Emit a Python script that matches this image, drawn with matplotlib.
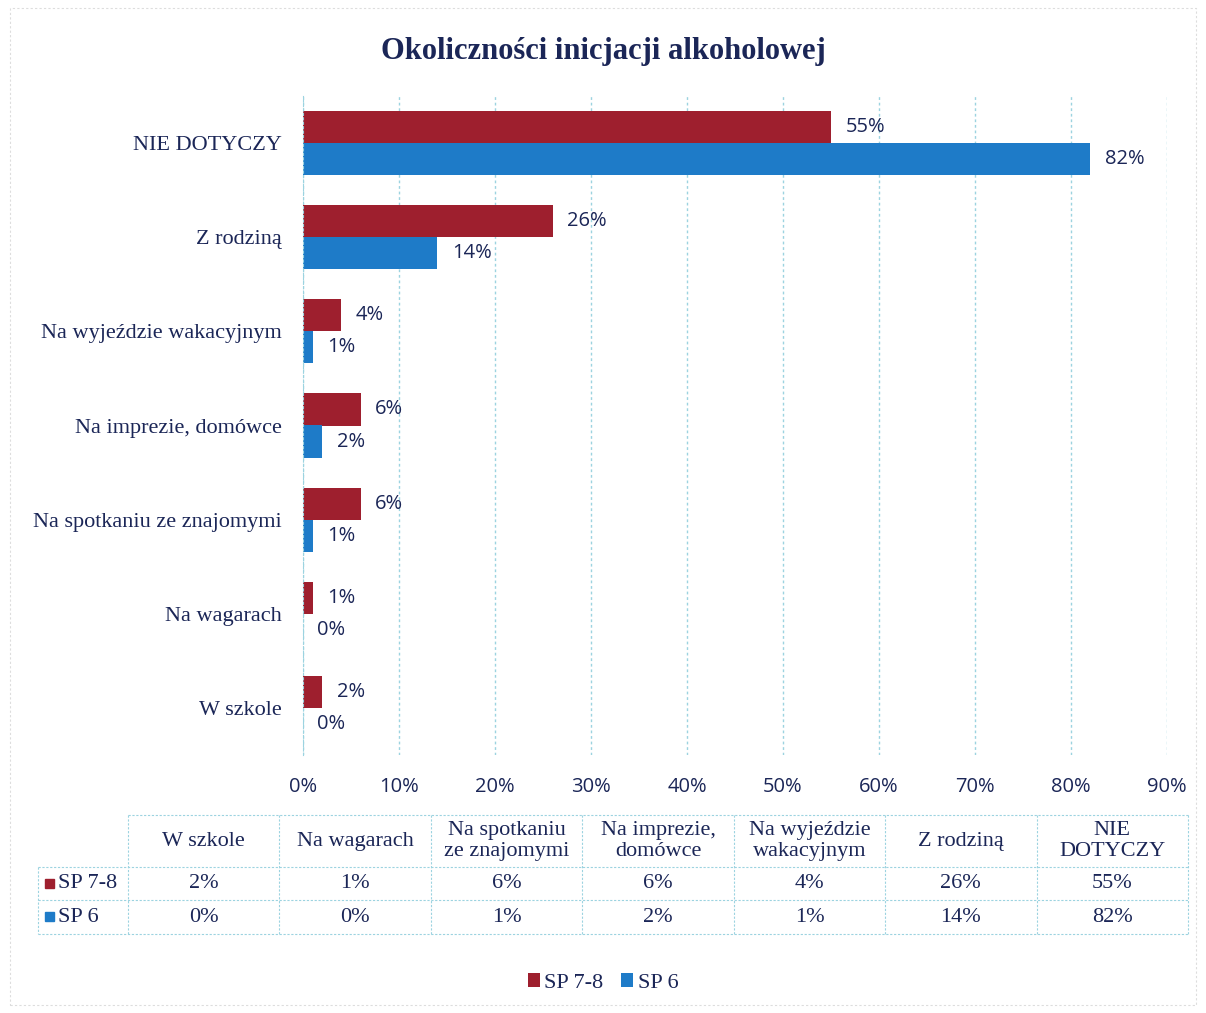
import matplotlib.pyplot as plt
import numpy as np
from matplotlib.patches import Rectangle

# Dane
kategorie = ["W szkole", "Na wagarach", "Na spotkaniu ze znajomymi",
             "Na imprezie, domówce", "Na wyjeździe wakacyjnym", "Z rodziną",
             "NIE DOTYCZY"]
naglowki_tabeli = ["W szkole", "Na wagarach", "Na spotkaniu\nze znajomymi",
                   "Na imprezie,\ndomówce", "Na wyjeździe\nwakacyjnym",
                   "Z rodziną", "NIE\nDOTYCZY"]
sp78 = [2, 1, 6, 6, 4, 26, 55]
sp6 = [0, 0, 1, 2, 1, 14, 82]
serie = ["SP 7-8", "SP 6"]
ticki = [0, 10, 20, 30, 40, 50, 60, 70, 80, 90]

czerwony = "#9E1F2E"
niebieski = "#1E7BC8"
granat = "#1B2657"
siatka = "#9CD3E0"

W, H = 1206, 1013
fig = plt.figure(figsize=(W / 100, H / 100), dpi=100)

# Ramka calego wykresu
fig.patches.append(Rectangle((10 / W, 8 / H), 1 - 20 / W, 1 - 16 / H,
                             transform=fig.transFigure, fill=False,
                             ec="#DDDDDD", lw=0.8, ls=(0, (2, 2))))

ax = fig.add_axes([303 / W, 1 - 755 / H, (1167 - 303) / W, (755 - 96) / H])

y = np.arange(len(kategorie))
h = 0.34
ax.barh(y + h / 2, sp78, height=h, color=czerwony, lw=0, label=serie[0])
ax.barh(y - h / 2, sp6, height=h, color=niebieski, lw=0, label=serie[1])

for i in range(len(kategorie)):
    ax.text(sp78[i] + 1.5, y[i] + h / 2, f"{sp78[i]}%", va="center", ha="left",
            fontsize=14.5, color=granat, family="Open Sans")
    ax.text(sp6[i] + 1.5, y[i] - h / 2, f"{sp6[i]}%", va="center", ha="left",
            fontsize=14.5, color=granat, family="Open Sans")

ax.set_xlim(0, 90)
ax.set_ylim(-0.5, len(kategorie) - 0.5)
ax.set_xticks(ticki)
ax.set_xticklabels([f"{t}%" for t in ticki], fontsize=14.5, color=granat, family="Open Sans")
ax.set_yticks(y)
ax.set_yticklabels(kategorie, fontsize=16, color=granat, family="Liberation Serif")
ax.tick_params(length=0, axis="both")
ax.tick_params(axis="y", pad=15)
ax.tick_params(axis="x", pad=16)
ax.grid(axis="x", color=siatka, lw=1.0, ls=(0, (2, 2)))
ax.set_axisbelow(True)
for s in ["top", "right", "bottom"]:
    ax.spines[s].set_visible(False)
ax.spines["left"].set_color(siatka)
ax.spines["left"].set_linestyle((0, (2, 2)))

fig.text(0.5, 1 - 52 / H, "Okoliczności inicjacji alkoholowej", ha="center", va="center",
         fontsize=22, fontweight="bold", color=granat, family="Liberation Serif")

# Tabela danych
kol = np.linspace(128, 1188, len(kategorie) + 1)
wiersze = [815, 867, 900, 934]
lc = dict(color=siatka, lw=0.8, ls=(0, (2, 1.5)))
fy = lambda v: 1 - v / H
fx = lambda v: v / W
fig.add_artist(plt.Line2D([fx(128), fx(1188)], [fy(815), fy(815)], **lc))
for r in wiersze[1:]:
    fig.add_artist(plt.Line2D([fx(38), fx(1188)], [fy(r), fy(r)], **lc))
for c in kol:
    fig.add_artist(plt.Line2D([fx(c), fx(c)], [fy(815), fy(934)], **lc))
fig.add_artist(plt.Line2D([fx(38), fx(38)], [fy(867), fy(934)], **lc))

for j, nag in enumerate(naglowki_tabeli):
    xc = (kol[j] + kol[j + 1]) / 2
    fig.text(fx(xc), fy(841), nag, ha="center", va="center", fontsize=16,
             color=granat, family="Liberation Serif", linespacing=1.1)
for wart, r0, r1, nazwa, kolor in [(sp78, 867, 900, serie[0], czerwony),
                                   (sp6, 900, 934, serie[1], niebieski)]:
    yc = (r0 + r1) / 2
    fig.patches.append(Rectangle((fx(45), fy(yc + 4)), 9 / W, 9 / H,
                                 transform=fig.transFigure, color=kolor))
    fig.text(fx(58), fy(yc), nazwa, ha="left", va="center", fontsize=16,
             color=granat, family="Liberation Serif")
    for j, v in enumerate(wart):
        xc = (kol[j] + kol[j + 1]) / 2
        fig.text(fx(xc), fy(yc), f"{v}%", ha="center", va="center", fontsize=16,
                 color=granat, family="Liberation Serif")

# Legenda
leg = fig.legend(loc="center", bbox_to_anchor=(0.5, fy(983)), ncol=2, frameon=False,
                 handlelength=0.55, handleheight=0.55, handletextpad=0.2, columnspacing=0.8,
                 prop={"family": "Liberation Serif", "size": 16})
for t in leg.get_texts():
    t.set_color(granat)

fig.savefig("out.png", dpi=100)
plt.close()
